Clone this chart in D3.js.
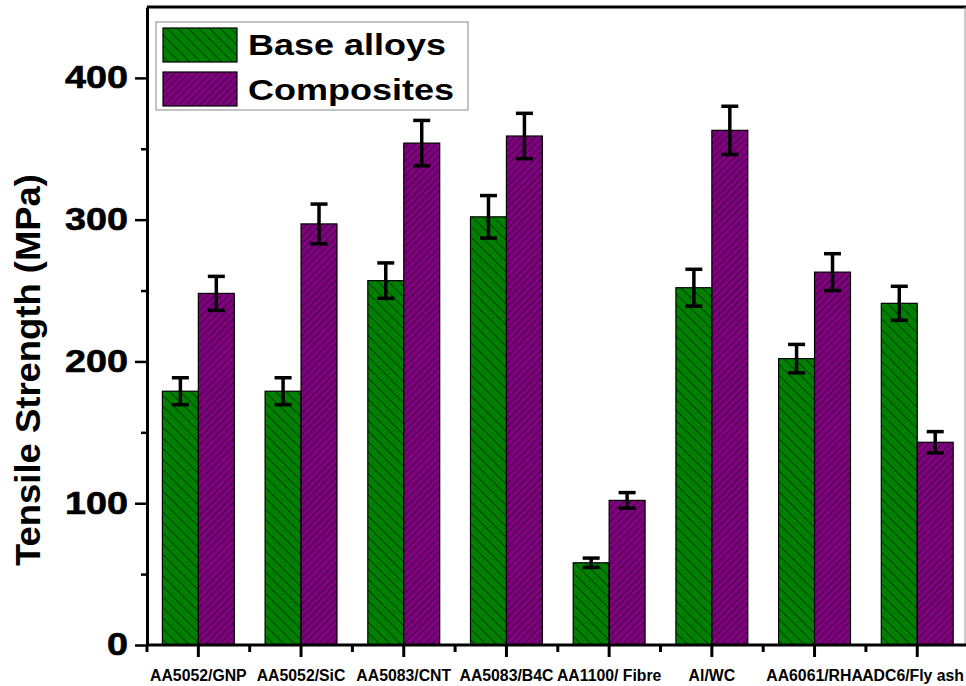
<!DOCTYPE html>
<html>
<head>
<meta charset="utf-8">
<script src="https://cdn.jsdelivr.net/npm/d3@7"></script>
<style>
  body { margin: 0; background: #fff; }
  text { font-family: "Liberation Sans", Arial, sans-serif; font-weight: bold; }
</style>
</head>
<body>
<script>
// tensile strength, base alloy vs composite

const categories = ["AA5052/GNP", "AA5052/SiC", "AA5083/CNT", "AA5083/B4C",
  "AA1100/ Fibre", "Al/WC", "AA6061/RHA", "ADC6/Fly ash"];
const baseVals = [179, 179, 257, 302, 58, 252, 202, 241];
const baseErr  = [9.5, 9.5, 12.5, 15, 3.3, 13, 10, 12];
const compVals = [248, 297, 354, 359, 102, 363, 263, 143];
const compErr  = [12, 14, 16, 16, 5.5, 17, 13, 7.5];
const yTicks = [0, 100, 200, 300, 400];
const yMinor = [50, 150, 250, 350];
const seriesNames = ["Base alloys", "Composites"];

const width = 966, height = 686;
const GREEN = "#008000", PURPLE = "#800080";

const svg = d3.select("body").append("svg")
  .attr("width", width)
  .attr("height", height);

svg.append("rect").attr("width", width).attr("height", height).attr("fill", "#fff");

// hatch patterns
const defs = svg.append("defs");
function hatch(id, color, gap, angle) {
  const p = defs.append("pattern")
    .attr("id", id)
    .attr("patternUnits", "userSpaceOnUse")
    .attr("width", gap).attr("height", gap)
    .attr("patternTransform", `rotate(${angle})`);
  p.append("rect").attr("width", gap).attr("height", gap).attr("fill", color);
  p.append("line")
    .attr("x1", 0).attr("y1", 0).attr("x2", 0).attr("y2", gap)
    .attr("stroke", "#111").attr("stroke-width", 1.2);
}
hatch("hGreen", GREEN, 7.5, -45);
hatch("hPurple", PURPLE, 5, 45);
const fills = ["url(#hGreen)", "url(#hPurple)"];

const x = d3.scaleBand()
  .domain(categories)
  .range([147, 968.6])
  .paddingInner(0.3)
  .paddingOuter(0.15);

const y = d3.scaleLinear().domain([0, 450]).range([645, 7]);

const bw = x.bandwidth() / 2;

const rows = categories.map((c, i) => [
  { cat: c, s: 0, v: baseVals[i], e: baseErr[i] },
  { cat: c, s: 1, v: compVals[i], e: compErr[i] }
]).flat();

// bars
svg.append("g").selectAll("rect")
  .data(rows)
  .join("rect")
  .attr("x", d => x(d.cat) + d.s * bw)
  .attr("y", d => y(d.v))
  .attr("width", bw)
  .attr("height", d => y(0) - y(d.v))
  .attr("fill", d => fills[d.s])
  .attr("stroke", "#000")
  .attr("stroke-width", 1.2);

// error bars
const eb = svg.append("g").attr("stroke", "#000").attr("stroke-width", 3.5);
const cap = 8.5;
rows.forEach(d => {
  const cx = x(d.cat) + d.s * bw + bw / 2;
  eb.append("line").attr("x1", cx).attr("x2", cx)
    .attr("y1", y(d.v - d.e)).attr("y2", y(d.v + d.e));
  [d.v - d.e, d.v + d.e].forEach(v => {
    eb.append("line").attr("x1", cx - cap).attr("x2", cx + cap)
      .attr("y1", y(v)).attr("y2", y(v));
  });
});

// frame top/right
svg.append("line").attr("x1", 147).attr("x2", width).attr("y1", 7).attr("y2", 7)
  .attr("stroke", "#000").attr("stroke-width", 3);
svg.append("line").attr("x1", 965).attr("x2", 965).attr("y1", 7).attr("y2", 645)
  .attr("stroke", "#999").attr("stroke-width", 1);

// y axis
const yAxis = svg.append("g")
  .attr("transform", "translate(147,0)")
  .call(d3.axisLeft(y).tickValues(yTicks).tickSize(12).tickSizeOuter(0).tickPadding(7));
yAxis.select(".domain").attr("stroke-width", 3);
yAxis.selectAll(".tick line").attr("stroke-width", 2.5);
yAxis.selectAll(".tick text")
  .attr("font-size", 31)
  .attr("fill", "#000")
  .attr("stroke", "#000").attr("stroke-width", 0.6)
  .attr("textLength", d => String(d).length * 21)
  .attr("lengthAdjust", "spacingAndGlyphs");

svg.append("g")
  .attr("transform", "translate(147,0)")
  .call(d3.axisLeft(y).tickValues(yMinor).tickSize(6).tickFormat(""))
  .call(g => g.select(".domain").remove())
  .selectAll(".tick line").attr("stroke-width", 2.5);

// x axis
const xAxis = svg.append("g")
  .attr("transform", "translate(0,645)")
  .call(d3.axisBottom(x).tickSize(12).tickSizeOuter(0).tickPadding(13));
xAxis.select(".domain").attr("stroke-width", 3).attr("d", `M147,0H${width}`);
xAxis.selectAll(".tick line").attr("stroke-width", 3);
xAxis.selectAll(".tick text").attr("font-size", 15.8).attr("fill", "#000")
  .each(function(d) {
    // keep the last label inside the picture
    const w = this.getComputedTextLength();
    const right = x(d) + x.bandwidth() / 2 + w / 2;
    if (right > width - 2) d3.select(this).attr("x", width - 2 - right);
  });

const bounds = d3.range(categories.length + 1)
  .map(i => x(categories[0]) + bw + (i - 0.5) * x.step());
svg.append("g").selectAll("line")
  .data(bounds)
  .join("line")
  .attr("x1", d => d).attr("x2", d => d)
  .attr("y1", 645).attr("y2", 652)
  .attr("stroke", "#000").attr("stroke-width", 3);

// y title
svg.append("text")
  .attr("transform", "translate(40,370) rotate(-90)")
  .attr("text-anchor", "middle")
  .attr("font-size", 35)
  .attr("textLength", 392)
  .attr("lengthAdjust", "spacingAndGlyphs")
  .text("Tensile Strength (MPa)");

// legend
const lg = svg.append("g");
lg.append("rect").attr("x", 156).attr("y", 22).attr("width", 312).attr("height", 88)
  .attr("fill", "#fff").attr("stroke", "#888").attr("stroke-width", 1);
const lw = [198, 206];
seriesNames.forEach((n, i) => {
  lg.append("rect")
    .attr("x", 163).attr("y", 28 + i * 44)
    .attr("width", 74).attr("height", 34)
    .attr("fill", fills[i]).attr("stroke", "#000").attr("stroke-width", 1.2);
  lg.append("text")
    .attr("x", 248).attr("y", 55 + i * 45)
    .attr("font-size", 30)
    .attr("textLength", lw[i])
    .attr("lengthAdjust", "spacingAndGlyphs")
    .text(n);
});
</script>
</body>
</html>
